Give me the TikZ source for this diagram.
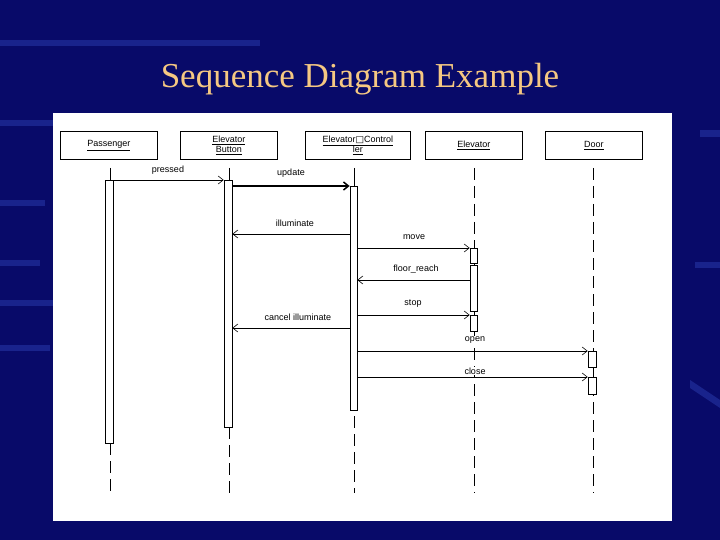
\documentclass[tikz,border=0pt]{standalone}
\usepackage{fontspec}
\setmainfont{Liberation Sans}
\newfontfamily\titlefont{Liberation Serif}
\newfontfamily\djv{DejaVu Sans}
\usetikzlibrary{arrows.meta}
\definecolor{bg}{RGB}{8,10,105}
\definecolor{stripe}{RGB}{25,35,140}
\definecolor{titlec}{RGB}{245,200,130}
\begin{document}
\begin{tikzpicture}[x=1pt,y=-1pt,
  obj/.style={draw,line width=0.8pt,minimum width=97pt,minimum height=28pt,anchor=north west,inner sep=1pt,font=\fontsize{9}{10}\selectfont,align=center},
  act/.style={draw,fill=white,line width=0.7pt},
  msg/.style={draw,line width=0.6pt,-{Straight Barb[length=5pt,width=8pt]}},
  lbl/.style={font=\fontsize{9}{10}\selectfont,inner sep=1pt},
  life/.style={line width=1pt,dash pattern=on 12pt off 6pt},
  thinlife/.style={line width=0.6pt,dash pattern=on 12pt off 6pt}]
\useasboundingbox (0,0) rectangle (720,540);
\fill[bg] (0,0) rectangle (720,540);
\foreach \y/\w in {40/260,120/60,200/45,260/40,300/55,345/50}{\fill[stripe] (0,\y) rectangle (\w,\y+6);}
\fill[stripe] (700,130) rectangle (720,137);
\fill[stripe] (695,262) rectangle (720,268);
\fill[stripe] (690,380) -- (720,400) -- (720,408) -- (690,388) -- cycle;
\node[text=titlec,font=\titlefont\fontsize{35}{40}\selectfont] (title) at (360,79) {Sequence Diagram Example};
\fill[white] (53,113) rectangle (672,521);
% objects
\node[obj] (pas) at (60,131) {\underline{Passenger}};
\node[obj] (btn) at (180,131) {\underline{Elevator}\\\underline{Button}};
\node[obj,minimum width=105pt] (ctl) at (305,131) {\underline{Elevator{\djv □}Control}\\\underline{ler}};
\node[obj] (elv) at (425,131) {\underline{Elevator}};
\node[obj] (dor) at (545,131) {\underline{Door}};
% lifelines
\coordinate (l1a) at (110,168); \coordinate (l1b) at (110,493);
\coordinate (l2a) at (229,168); \coordinate (l2b) at (229,493);
\coordinate (l3a) at (354,168); \coordinate (l3b) at (354,493);
\coordinate (l4a) at (474,168); \coordinate (l4b) at (474,493);
\coordinate (l5a) at (593,168); \coordinate (l5b) at (593,493);
\draw[line width=1pt] (l1a) -- (110,180); \draw[life] (110,443) -- (l1b);
\draw[line width=1pt] (l2a) -- (229,180); \draw[life] (229,427) -- (l2b);
\draw[line width=1pt] (l3a) -- (354,186); \draw[life] (354,416) -- (l3b);
\draw[thinlife] (l4a) -- (l4b);
\draw[thinlife] (l5a) -- (l5b);
% activations
\node[act,minimum width=8pt,minimum height=263pt,anchor=north,inner sep=0pt] (a1) at (109,180) {};
\node[act,minimum width=8pt,minimum height=247pt,anchor=north,inner sep=0pt] (a2) at (228,180) {};
\node[act,minimum width=7pt,minimum height=224pt,anchor=north,inner sep=0pt] (a3) at (353.5,186) {};
\node[act,minimum width=7pt,minimum height=15pt,anchor=north,inner sep=0pt] (e1) at (473.5,248) {};
\node[act,minimum width=7pt,minimum height=46pt,anchor=north,inner sep=0pt] (e2) at (473.5,265) {};
\node[act,minimum width=7pt,minimum height=16pt,anchor=north,inner sep=0pt] (e3) at (473.5,315) {};
\node[act,minimum width=8pt,minimum height=16pt,anchor=north,inner sep=0pt] (d1) at (592,351) {};
\node[act,minimum width=8pt,minimum height=17pt,anchor=north,inner sep=0pt] (d2) at (592,377) {};
% messages
\draw[msg] (a1.north east) -- (a2.north west);
\node[lbl] (t1) at (168,170) {pressed};
\draw[msg,line width=1.5pt] (a2.east |- 0,186) -- (a3.north west);
\node[lbl] (t2) at (291,173) {update};
\draw[msg] (a3.west |- 0,234) -- (a2.east |- 0,234);
\node[lbl] (t3) at (295,223) {illuminate};
\draw[msg] (a3.east |- 0,248) -- (e1.north west);
\node[lbl] (t4) at (414,237) {move};
\draw[msg] (e2.west |- 0,280) -- (a3.east |- 0,280);
\node[lbl] (t5) at (416,269) {floor\_reach};
\draw[msg] (a3.east |- 0,315) -- (e3.north west);
\node[lbl] (t6) at (413,304) {stop};
\draw[msg] (a3.west |- 0,328) -- (a2.east |- 0,328);
\node[lbl] (t7) at (298,317) {cancel illuminate};
\draw[msg] (a3.east |- 0,351) -- (d1.north west);
\node[lbl,fill=white] (t8) at (475,340) {open};
\draw[msg] (a3.east |- 0,377) -- (d2.north west);
\node[lbl,fill=white] (t9) at (475,371) {close};
\end{tikzpicture}
\end{document}
